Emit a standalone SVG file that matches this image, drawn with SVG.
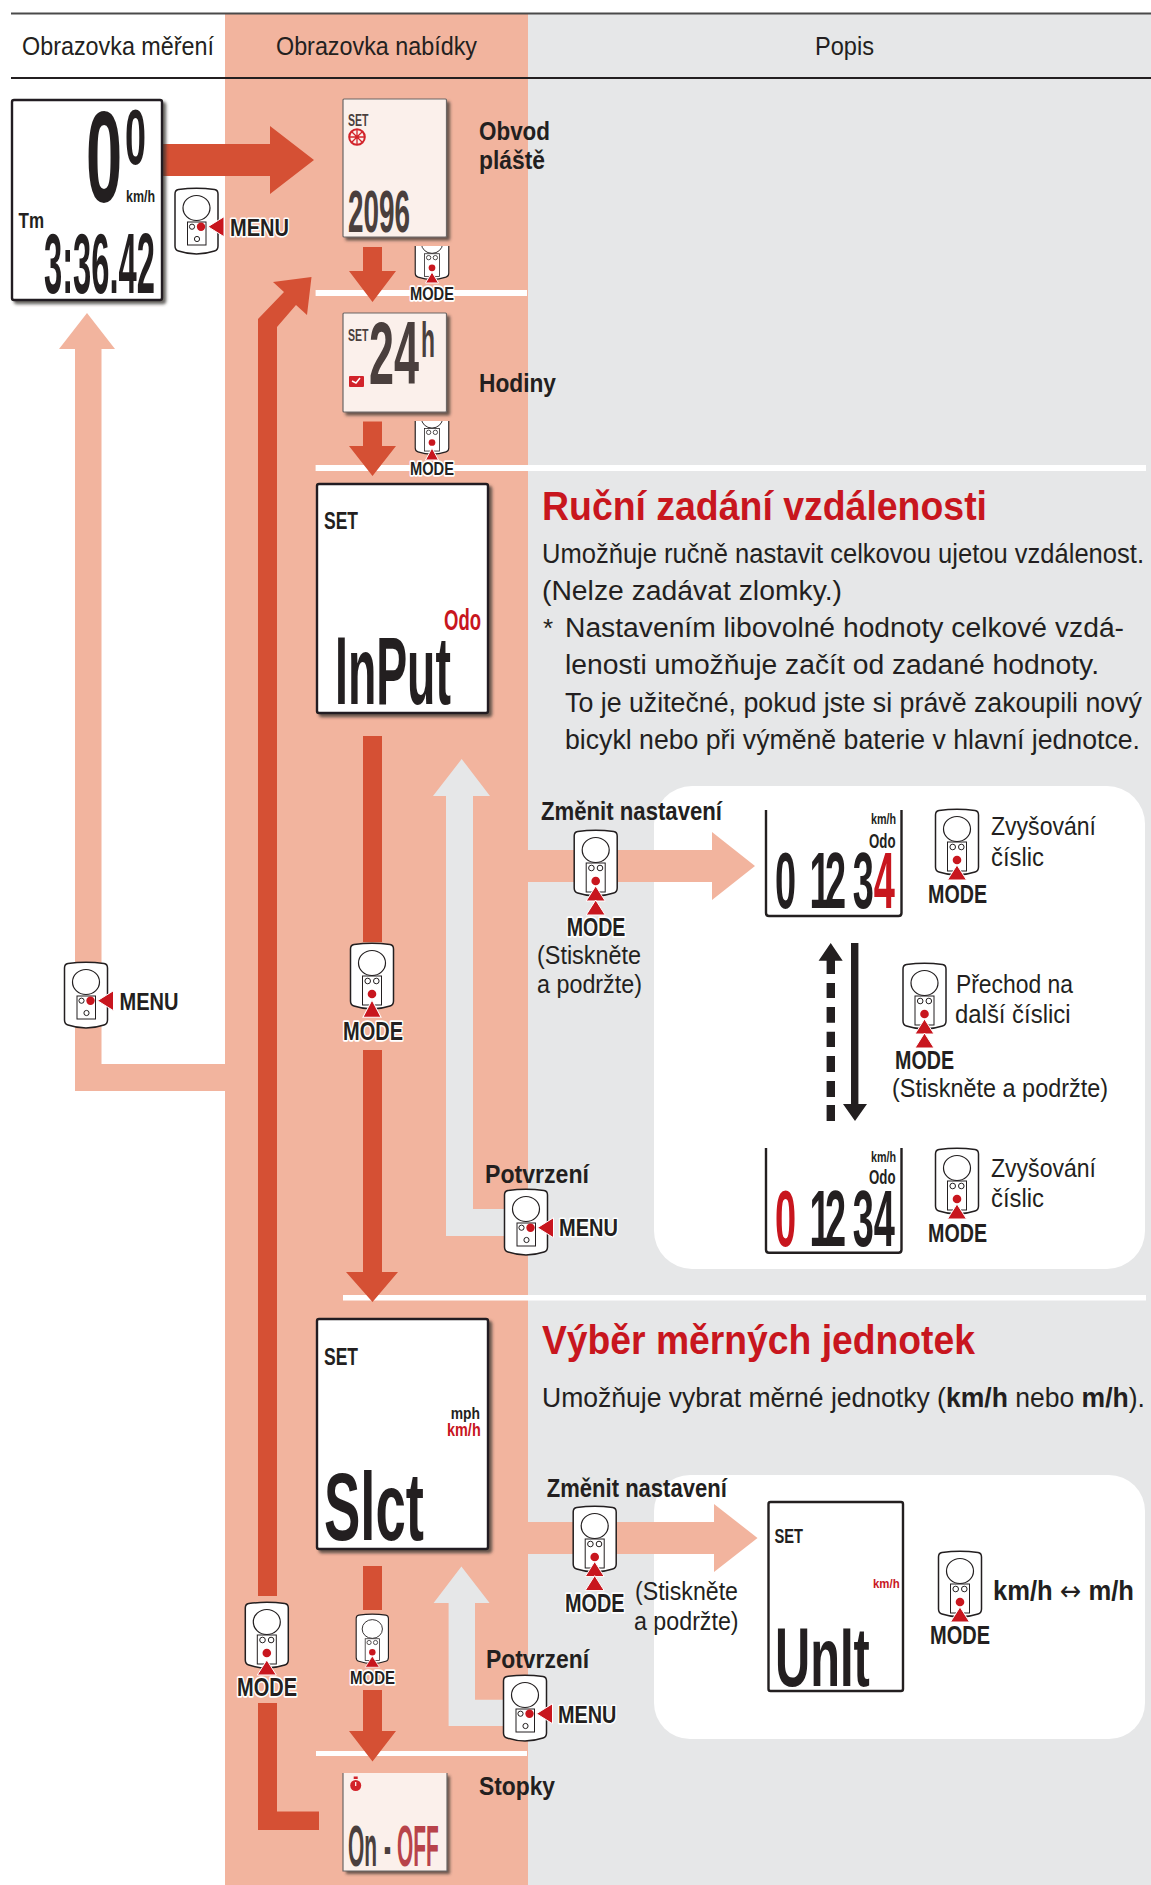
<svg xmlns="http://www.w3.org/2000/svg" width="1151" height="1885" viewBox="0 0 1151 1885">
<style>
text{font-family:"Liberation Sans",Arial,sans-serif;fill:#231f20}
.b{font-weight:700}
.h{font-size:26px}
.p{font-size:25px}
.l{font-size:25px;font-weight:700}
.k{font-size:20px;font-weight:700;paint-order:stroke;stroke:#fff;stroke-width:2.600px;stroke-linejoin:round}
.t{font-size:41px;font-weight:700;fill:#c8161e}
.lcd{font-weight:700}
.dim{fill:#4a3f3d}
.red{fill:#c8161e}
.ar{fill:#d55034}
.pe{fill:#f2b49e}
.gr{fill:#e6e7e8}
.wl{fill:#fff}
.dsp{fill:#fff;stroke:#231f20;stroke-width:2.400px}
.dsl{fill:#fbf0eb;stroke:#6d6766;stroke-width:1.200px}
.sh{filter:url(#shadow)}
.u{fill:none;stroke:#231f20;stroke-width:2.400px;stroke-linejoin:round}
.tri{fill:#c8161e;stroke:#fff;stroke-width:1px}
</style>
<defs>
<filter id="shadow" x="-10%" y="-10%" width="125%" height="125%"><feDropShadow dx="3" dy="3" stdDeviation="1.600" flood-color="#3a3432" flood-opacity=".75"/></filter>
<g id="body">
<path d="M-18,1.500 Q0,-1 18,1.500 Q21.500,2 21.500,6 V58 Q21.500,62 18,63 Q0,69 -18,63 Q-21.500,62 -21.500,58 V6 Q-21.500,2 -18,1.500Z" fill="#fff" stroke="#231f20" stroke-width="1.500"/>
<ellipse cx="0" cy="20" rx="13.500" ry="12.500" fill="#fff" stroke="#231f20" stroke-width="1.200"/>
</g>
<g id="devMode">
<use href="#body"/>
<rect x="-9.500" y="33" width="19" height="29" fill="#fff" stroke="#231f20" stroke-width="1"/>
<circle cx="-4.300" cy="38" r="2.800" fill="#fff" stroke="#231f20"/>
<circle cx="4.300" cy="38" r="2.800" fill="#fff" stroke="#231f20"/>
<circle cx="0" cy="51" r="4.300" fill="#c8161e"/>
</g>
<g id="devMenu">
<use href="#body"/>
<rect x="-9" y="34" width="18.500" height="23" fill="#fff" stroke="#231f20" stroke-width="1"/>
<circle cx="-4.500" cy="38.700" r="2.600" fill="#fff" stroke="#231f20"/>
<circle cx="0.500" cy="51" r="2.600" fill="#fff" stroke="#231f20"/>
<circle cx="4.500" cy="38.700" r="4.200" fill="#c8161e"/>
<path class="tri" d="M11.500,38.700 L27.500,28.700 V48.700Z"/>
</g>
<path id="tu" class="tri" d="M0,0 L9.500,15 H-9.500Z"/>
<clipPath id="c1"><rect x="400" y="246" width="60" height="40"/></clipPath>
<clipPath id="c2"><rect x="400" y="421" width="60" height="40"/></clipPath>
</defs>

<g id="background">
<rect class="gr" x="528" y="14" width="623" height="1871"/>
<rect class="pe" x="225" y="14" width="303" height="1871"/>
<rect x="11" y="12.500" width="1140" height="2" fill="#4a4a4a"/>
<rect x="11" y="77" width="1140" height="2" fill="#231f20"/>
<rect class="wl" x="315.600" y="290" width="211.400" height="6"/>
<rect class="wl" x="315.600" y="465" width="830.400" height="6"/>
<rect class="wl" x="343" y="1295" width="803" height="5.500"/>
<rect class="wl" x="316" y="1751" width="211" height="5"/>
<rect class="wl" x="654" y="786" width="491" height="483" rx="38"/>
<rect class="wl" x="654" y="1475" width="491" height="264" rx="36"/>
</g>

<g id="headers">
<text class="h" x="22" y="55" textLength="192" lengthAdjust="spacingAndGlyphs">Obrazovka měření</text>
<text class="h" x="276" y="55" textLength="201" lengthAdjust="spacingAndGlyphs">Obrazovka nabídky</text>
<text class="h" x="815" y="55" textLength="59" lengthAdjust="spacingAndGlyphs">Popis</text>
</g>

<g id="connectors">
<path class="ar" d="M162,144 H270 V126 L314,160 L270,194 V176 H162Z"/>
<path class="ar" d="M363,247 H382 V271 H396 L372.500,302 L349,271 H363Z"/>
<path class="ar" d="M363,421.500 H382 V446 H396 L372.500,476 L349,446 H363Z"/>
<path class="ar" d="M258,1596 V319 L284,292 L273,282 L311.500,277 L307,315 L296,305 L277,327 V1596Z"/>
<path class="ar" d="M258,1703 V1830 H319 V1811.600 H277 V1703Z"/>
<path class="ar" d="M363,736 H382 V942 H363Z"/>
<path class="ar" d="M363,1050 H382 V1272 H398 L372.500,1302 L346,1272 H363Z"/>
<path class="ar" d="M363,1566 H382 V1610 H363Z"/>
<path class="ar" d="M363,1690 H382 V1731 H396 L372.500,1761.500 L349,1731 H363Z"/>
<path class="pe" d="M225,1064 H101.500 V349 H115 L87,313 L59,349 H75 V1091 H225Z"/>
<path class="gr" d="M446,796 H433 L461.700,759 L490,796 H473 V1209 H510 V1236 H446Z"/>
<path class="gr" d="M448.600,1603 H433.600 L461.400,1566.600 L489.600,1603 H475 V1699.800 H510 V1726 H448.600Z"/>
<path class="pe" d="M528,850 H712 V832 L755,866 L712,900 V882 H528Z"/>
<path class="pe" d="M528,1522 H714 V1504 L757.500,1538 L714,1572 V1554 H528Z"/>
<path fill="#231f20" d="M830.700,943 L842.700,960.700 H835 V974 H826.600 V960.700 H818.600Z"/>
<path fill="#231f20" d="M826.600,983 h8.400 v15 h-8.400Z M826.600,1007 h8.400 v15.700 h-8.400Z M826.600,1031.700 h8.400 v15.300 h-8.400Z M826.600,1056 h8.400 v16 h-8.400Z M826.600,1081 h8.400 v16 h-8.400Z M826.600,1105 h8.400 v16 h-8.400Z"/>
<path fill="#231f20" d="M851,943 H858.400 V1104 H867 L855,1121 L843,1104 H851Z"/>
</g>

<g id="node-mereni">
<rect class="dsp sh" x="12" y="100" width="150" height="200" rx="2"/>
<text class="lcd" transform="translate(86,202) scale(.5,1)" font-size="130">0</text>
<text class="lcd" transform="translate(125,164) scale(.484,1)" font-size="78">0</text>
<text class="b" transform="translate(126,202) scale(1,1.250)" font-size="12.500" textLength="29" lengthAdjust="spacingAndGlyphs">km/h</text>
<text class="b" transform="translate(18.500,228) scale(1,1.250)" font-size="18" textLength="25.500" lengthAdjust="spacingAndGlyphs">Tm</text>
<text class="lcd" transform="translate(44,293) scale(.385,1)" font-size="85">3:36.42</text>
</g>

<g id="btn-menu-1">
<use href="#devMenu" transform="translate(196.500,188)"/>
<text class="k" transform="translate(230,236) scale(1,1.225)" textLength="59" lengthAdjust="spacingAndGlyphs">MENU</text>
</g>

<g id="node-obvod">
<rect class="dsl sh" x="343" y="99" width="103.500" height="138" rx="1"/>
<text class="b dim" transform="translate(348,126) scale(1,1.200)" font-size="13" textLength="20.500" lengthAdjust="spacingAndGlyphs">SET</text>
<g fill="none" stroke="#d2232a" stroke-width="1.300"><circle cx="357" cy="137" r="7.800" stroke-width="2"/><path d="M357,130 V144 M350,137 H364 M352,132 L362,142 M362,132 L352,142"/></g>
<text class="lcd dim" transform="translate(348,232) scale(.476,1)" font-size="58.600">2096</text>
<text class="l" x="479" y="140" textLength="71" lengthAdjust="spacingAndGlyphs">Obvod</text>
<text class="l" x="479" y="169" textLength="66" lengthAdjust="spacingAndGlyphs">pláště</text>
</g>

<g id="btn-mode-1">
<g clip-path="url(#c1)"><use href="#devMode" transform="translate(432,228) scale(.78)"/></g>
<path class="tri" d="M432,272 L438.500,283 H425.500Z"/>
<text class="k" transform="translate(410,300) scale(1,1.250)" textLength="44" lengthAdjust="spacingAndGlyphs" style="font-size:14.600px">MODE</text>
</g>

<g id="node-hodiny">
<rect class="dsl sh" x="343" y="313" width="103.500" height="99" rx="1"/>
<text class="b dim" transform="translate(348,341) scale(1,1.200)" font-size="13" textLength="20.500" lengthAdjust="spacingAndGlyphs">SET</text>
<text class="lcd dim" transform="translate(369,384) scale(.505,1)" font-size="89">24</text>
<text class="lcd dim" transform="translate(421,357) scale(.458,1)" font-size="50">h</text>
<rect x="349" y="376" width="15" height="11" rx="1" fill="#d2232a"/>
<path d="M352,381 L356,383 L360,378" fill="none" stroke="#fff" stroke-width="1.500"/>
<text class="l" x="479" y="392" textLength="77" lengthAdjust="spacingAndGlyphs">Hodiny</text>
</g>

<g id="btn-mode-2">
<g clip-path="url(#c2)"><use href="#devMode" transform="translate(432,402.700) scale(.78)"/></g>
<path class="tri" d="M432,448 L438.500,460 H425.500Z"/>
<text class="k" transform="translate(410,475) scale(1,1.250)" textLength="44" lengthAdjust="spacingAndGlyphs" style="font-size:14.600px">MODE</text>
</g>

<g id="node-input">
<rect class="dsp sh" x="317" y="484" width="171" height="229" rx="2"/>
<text class="b" transform="translate(324,529) scale(1,1.300)" font-size="18" textLength="34" lengthAdjust="spacingAndGlyphs">SET</text>
<text class="b red" x="444" y="630" font-size="29" textLength="37" lengthAdjust="spacingAndGlyphs">Odo</text>
<text class="lcd" transform="translate(335,704) scale(.478,1)" font-size="97">InPut</text>
</g>

<g id="section-rucni">
<text class="t" x="542" y="520" textLength="445" lengthAdjust="spacingAndGlyphs">Ruční zadání vzdálenosti</text>
<g transform="translate(542,563) scale(1,1.120)"><text class="p" textLength="602" lengthAdjust="spacingAndGlyphs">Umožňuje ručně nastavit celkovou ujetou vzdálenost.</text></g>
<g transform="translate(542,600) scale(1,1.120)"><text class="p" textLength="300" lengthAdjust="spacingAndGlyphs">(Nelze zadávat zlomky.)</text></g>
<text class="h" x="543" y="637">*</text>
<g transform="translate(565,637) scale(1,1.120)"><text class="p" textLength="559" lengthAdjust="spacingAndGlyphs">Nastavením libovolné hodnoty celkové vzdá-</text></g>
<g transform="translate(565,674) scale(1,1.120)"><text class="p" textLength="534" lengthAdjust="spacingAndGlyphs">lenosti umožňuje začít od zadané hodnoty.</text></g>
<g transform="translate(565,711.700) scale(1,1.120)"><text class="p" textLength="577" lengthAdjust="spacingAndGlyphs">To je užitečné, pokud jste si právě zakoupili nový</text></g>
<g transform="translate(565,749) scale(1,1.120)"><text class="p" textLength="575" lengthAdjust="spacingAndGlyphs">bicykl nebo při výměně baterie v hlavní jednotce.</text></g>
</g>

<g id="btn-mode-main">
<use href="#devMode" transform="translate(372,943)"/>
<use href="#tu" transform="translate(372,1000) scale(.95,1.150)"/>
<text class="k" transform="translate(343,1040) scale(1,1.250)" textLength="60" lengthAdjust="spacingAndGlyphs">MODE</text>
</g>

<g id="btn-menu-left">
<use href="#devMenu" transform="translate(86,962)"/>
<text class="k" transform="translate(119.500,1010) scale(1,1.225)" textLength="59" lengthAdjust="spacingAndGlyphs">MENU</text>
</g>

<g id="btn-change-1">
<text class="l" transform="translate(541,820) scale(1,1.150)" style="font-size:22px" textLength="181" lengthAdjust="spacingAndGlyphs">Změnit nastavení</text>
<use href="#devMode" transform="translate(595.700,830)"/>
<use href="#tu" transform="translate(595.700,886)"/>
<use href="#tu" transform="translate(595.700,900)"/>
<text class="k" transform="translate(566.700,935.700) scale(1,1.250)" textLength="58.700" lengthAdjust="spacingAndGlyphs">MODE</text>
<text class="h" x="537" y="964" textLength="104" lengthAdjust="spacingAndGlyphs">(Stiskněte</text>
<text class="h" x="537" y="992.700" textLength="105" lengthAdjust="spacingAndGlyphs">a podržte)</text>
</g>

<g id="lcd-digit-last">
<path class="u" d="M766,810 V913 Q766,916 769,916 H898.500 Q901.500,916 901.500,913 V810"/>
<text class="b" transform="translate(871,824) scale(1,1.250)" font-size="11" textLength="25" lengthAdjust="spacingAndGlyphs">km/h</text>
<text class="b" transform="translate(869,847.700) scale(1,1.400)" font-size="15" textLength="26.500" lengthAdjust="spacingAndGlyphs">Odo</text>
<text class="lcd" transform="translate(775,908.300) scale(.48,1)" font-size="79"><tspan x="0">0</tspan><tspan x="72 104 162">123</tspan><tspan x="206" class="red">4</tspan></text>
</g>
<g id="btn-up-1">
<use href="#devMode" transform="translate(957,809)"/>
<use href="#tu" transform="translate(957,865)"/>
<text class="k" transform="translate(928,902.700) scale(1,1.250)" textLength="59" lengthAdjust="spacingAndGlyphs">MODE</text>
<text class="h" x="991" y="835" textLength="105" lengthAdjust="spacingAndGlyphs">Zvyšování</text>
<text class="h" x="991" y="866" textLength="53" lengthAdjust="spacingAndGlyphs">číslic</text>
</g>

<g id="btn-next-digit">
<use href="#devMode" transform="translate(924.500,963)"/>
<use href="#tu" transform="translate(924.500,1019)"/>
<use href="#tu" transform="translate(924.500,1033)"/>
<text class="k" transform="translate(895,1069) scale(1,1.250)" textLength="59" lengthAdjust="spacingAndGlyphs">MODE</text>
<text class="h" x="956" y="993" textLength="117" lengthAdjust="spacingAndGlyphs">Přechod na</text>
<text class="h" x="955" y="1022.700" textLength="115.500" lengthAdjust="spacingAndGlyphs">další číslici</text>
<text class="h" transform="translate(892,1097) scale(1,1.100)" style="font-size:23.500px" textLength="216" lengthAdjust="spacingAndGlyphs">(Stiskněte a podržte)</text>
</g>

<g id="lcd-digit-first">
<path class="u" d="M766,1148 V1249.700 Q766,1252.700 769,1252.700 H898.500 Q901.500,1252.700 901.500,1249.700 V1148"/>
<text class="b" transform="translate(871,1161.700) scale(1,1.250)" font-size="11" textLength="25" lengthAdjust="spacingAndGlyphs">km/h</text>
<text class="b" transform="translate(869,1184) scale(1,1.400)" font-size="15" textLength="26.500" lengthAdjust="spacingAndGlyphs">Odo</text>
<text class="lcd" transform="translate(775,1245.700) scale(.48,1)" font-size="79"><tspan x="0" class="red">0</tspan><tspan x="72 104 162 206">1234</tspan></text>
</g>
<g id="btn-up-2">
<use href="#devMode" transform="translate(957,1148)"/>
<use href="#tu" transform="translate(957,1204)"/>
<text class="k" transform="translate(928,1241.700) scale(1,1.250)" textLength="59" lengthAdjust="spacingAndGlyphs">MODE</text>
<text class="h" x="991" y="1176.700" textLength="105" lengthAdjust="spacingAndGlyphs">Zvyšování</text>
<text class="h" x="991" y="1206.700" textLength="53" lengthAdjust="spacingAndGlyphs">číslic</text>
</g>

<g id="btn-confirm-1">
<text class="l" x="485" y="1183" textLength="104" lengthAdjust="spacingAndGlyphs">Potvrzení</text>
<use href="#devMenu" transform="translate(526,1189)"/>
<text class="k" transform="translate(559,1236) scale(1,1.225)" textLength="59" lengthAdjust="spacingAndGlyphs">MENU</text>
</g>

<g id="node-slct">
<rect class="dsp sh" x="317" y="1319" width="171" height="230" rx="2"/>
<text class="b" transform="translate(324,1365) scale(1,1.300)" font-size="18" textLength="34" lengthAdjust="spacingAndGlyphs">SET</text>
<text class="b" transform="translate(450.700,1419) scale(1,1.250)" font-size="13" textLength="29.300" lengthAdjust="spacingAndGlyphs">mph</text>
<text class="b red" transform="translate(447,1436) scale(1,1.300)" font-size="14" textLength="33.700" lengthAdjust="spacingAndGlyphs">km/h</text>
<text class="lcd" transform="translate(324,1540) scale(.562,1)" font-size="97">Slct</text>
</g>

<g id="section-vyber">
<text class="t" x="542" y="1354" textLength="433" lengthAdjust="spacingAndGlyphs">Výběr měrných jednotek</text>
<g transform="translate(542,1406.500) scale(1,1.120)"><text class="p" textLength="603" lengthAdjust="spacingAndGlyphs">Umožňuje vybrat měrné jednotky (<tspan class="b">km/h</tspan> nebo <tspan class="b">m/h</tspan>).</text></g>
</g>

<g id="btn-change-2">
<text class="l" transform="translate(546.800,1497) scale(1,1.150)" style="font-size:22px" textLength="180" lengthAdjust="spacingAndGlyphs">Změnit nastavení</text>
<use href="#devMode" transform="translate(594.700,1506)"/>
<use href="#tu" transform="translate(594.700,1561.600)"/>
<use href="#tu" transform="translate(594.700,1575.600)"/>
<text class="k" transform="translate(565,1611.800) scale(1,1.250)" textLength="59.600" lengthAdjust="spacingAndGlyphs">MODE</text>
<text class="h" x="635" y="1600" textLength="103" lengthAdjust="spacingAndGlyphs">(Stiskněte</text>
<text class="h" x="634" y="1630" textLength="104.600" lengthAdjust="spacingAndGlyphs">a podržte)</text>
</g>

<g id="lcd-unit">
<rect x="768.500" y="1502" width="134.500" height="189" rx="2" fill="#fff" stroke="#231f20" stroke-width="2.400"/>
<text class="b" transform="translate(774.500,1543) scale(1,1.300)" font-size="15" textLength="28.500" lengthAdjust="spacingAndGlyphs">SET</text>
<text class="b red" transform="translate(873,1587.500) scale(1,1.300)" font-size="10.500" textLength="26.600" lengthAdjust="spacingAndGlyphs">km/h</text>
<text class="lcd" transform="translate(775,1686) scale(.58,1)" font-size="84">UnIt</text>
</g>
<g id="btn-unit">
<use href="#devMode" transform="translate(960,1551)"/>
<use href="#tu" transform="translate(960,1607)"/>
<text class="k" transform="translate(930,1644) scale(1,1.250)" textLength="60" lengthAdjust="spacingAndGlyphs">MODE</text>
<text class="b" x="993" y="1600" font-size="27" textLength="141" lengthAdjust="spacingAndGlyphs">km/h <tspan style="font-family:'DejaVu Sans',sans-serif;font-weight:400">↔</tspan> m/h</text>
</g>

<g id="btn-confirm-2">
<text class="l" x="486" y="1667.700" textLength="103" lengthAdjust="spacingAndGlyphs">Potvrzení</text>
<use href="#devMenu" transform="translate(525,1675)"/>
<text class="k" transform="translate(558,1723) scale(1,1.225)" textLength="58.400" lengthAdjust="spacingAndGlyphs">MENU</text>
</g>

<g id="btn-mode-outer">
<use href="#devMode" transform="translate(266.800,1602)"/>
<use href="#tu" transform="translate(266.800,1660)"/>
<text class="k" transform="translate(237,1696) scale(1,1.250)" textLength="60" lengthAdjust="spacingAndGlyphs">MODE</text>
</g>

<g id="btn-mode-small">
<use href="#devMode" transform="translate(372.300,1614) scale(.75)"/>
<use href="#tu" transform="translate(372.300,1656) scale(.75)"/>
<text class="k" transform="translate(350,1684) scale(1,1.250)" textLength="45" lengthAdjust="spacingAndGlyphs" style="font-size:15px">MODE</text>
</g>

<g id="node-stopky">
<path class="sh" d="M343,1773 H447 V1871 H343Z" fill="#fbf0eb"/>
<path d="M343,1773 V1871 H447 V1773" fill="none" stroke="#6d6766" stroke-width="1.200"/>
<circle cx="355.700" cy="1785.500" r="5.500" fill="#d2232a"/>
<rect x="353.700" y="1776.500" width="4" height="2.500" fill="#d2232a"/>
<path d="M355.700,1782 V1786" stroke="#fff" stroke-width="1.200"/>
<text class="lcd dim" transform="translate(348,1865.600) scale(.36,1)" font-size="58"><tspan x="0">On</tspan><tspan x="100">-</tspan><tspan x="136" style="fill:#b8434a">OFF</tspan></text>
<text class="l" x="479" y="1795" textLength="76" lengthAdjust="spacingAndGlyphs">Stopky</text>
</g>
</svg>
